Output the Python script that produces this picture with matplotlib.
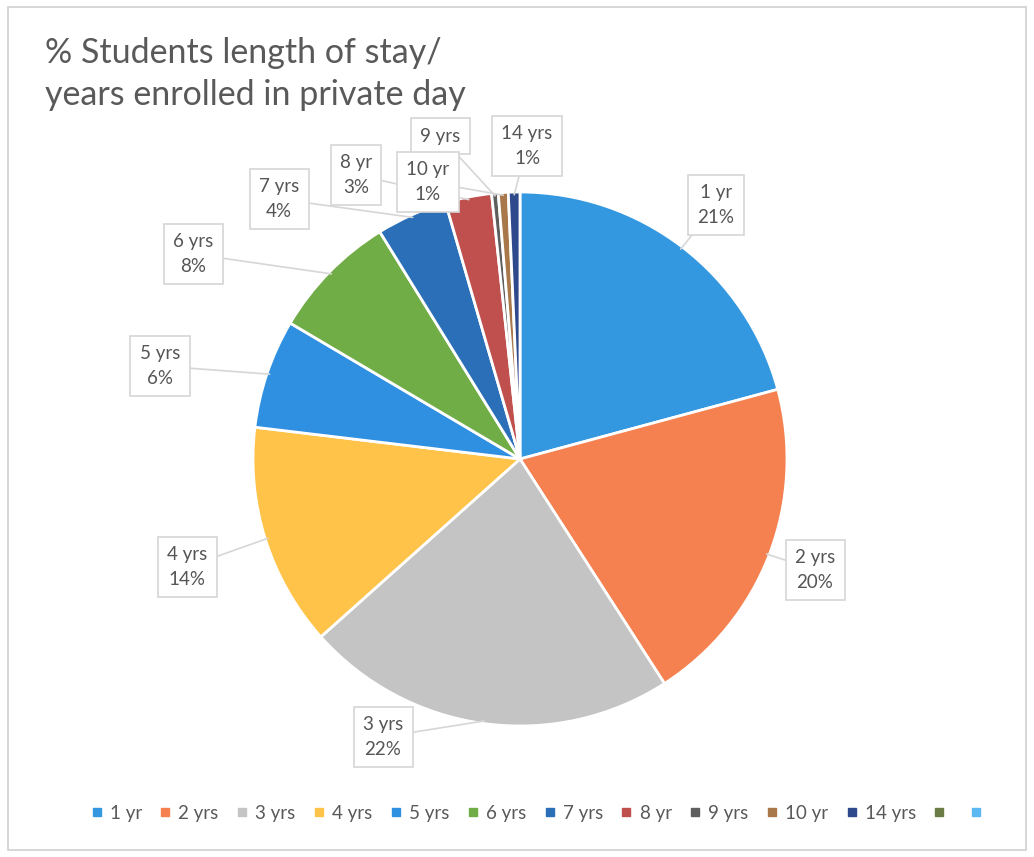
import numpy as np
import matplotlib.pyplot as plt
from matplotlib.lines import Line2D
from matplotlib.patches import Rectangle

plt.rcParams['font.family'] = ['Lato', 'DejaVu Sans']

# data
categories = ['1 yr', '2 yrs', '3 yrs', '4 yrs', '5 yrs', '6 yrs', '7 yrs', '8 yr', '9 yrs', '10 yr', '14 yrs']
shares = [20.8, 20.1, 22.5, 13.5, 6.6, 7.7, 4.3, 2.8, 0.4, 0.6, 0.7]
pct_labels = ['21%', '20%', '22%', '14%', '6%', '8%', '4%', '3%', '', '1%', '1%']
colors = ['#3398e0', '#f4814f', '#c4c4c4', '#ffc34a', '#2f8fe0', '#71ad47',
          '#2a6fb8', '#c0504d', '#5e5e5e', '#a8784a', '#2f4a8c']
# two extra legend entries with no data
extra_colors = ['#6b7d45', '#5bb8f0']

# callout box centres (pixels, y from top)
label_pos = [(716, 205), (815, 570), (383, 737), (187, 567), (160, 366), (193, 254),
             (279, 199), (356, 175), (440, 136), (428, 182), (527, 146)]

W, H = 1034, 857
fig = plt.figure(figsize=(W / 100, H / 100), dpi=100)
ax = fig.add_axes([0, 0, 1, 1])

fig.patches.append(Rectangle((8 / W, 7 / H), 1018 / W, 843 / H, transform=fig.transFigure,
                             fill=False, ec='#d0d0d0', lw=1.2))

cx, cy, r = 520, H - 459, 267
wedges, _ = ax.pie(shares, colors=colors, startangle=90, counterclock=False,
                   center=(cx, cy), radius=r, frame=True,
                   wedgeprops=dict(edgecolor='white', linewidth=2))
ax.set_xlim(0, W)
ax.set_ylim(0, H)
ax.axis('off')

for w, cat, pct, (lx, ly) in zip(wedges, categories, pct_labels, label_pos):
    mid = np.deg2rad((w.theta1 + w.theta2) / 2)
    px, py = cx + r * 0.99 * np.cos(mid), cy + r * 0.99 * np.sin(mid)
    txt = cat if pct == '' else f'{cat}\n{pct}'
    ax.annotate(txt, xy=(px, py), xytext=(lx, H - ly), ha='center', va='center',
                fontsize=13.5, color='#555555', linespacing=1.55,
                bbox=dict(boxstyle='square,pad=0.5', fc='white', ec='#d6d6d6', lw=1.2),
                arrowprops=dict(arrowstyle='-', color='#d6d6d6', lw=1.2,
                                shrinkA=0, shrinkB=0))

ax.text(45, H - 74, '% Students length of stay/\nyears enrolled in private day',
        fontsize=24.5, color='#595959', ha='left', va='center', linespacing=1.4)

handles = [Line2D([], [], marker='s', ls='', color=c, markersize=6) for c in colors + extra_colors]
names = categories + ['', '']
fig.legend(handles, names, loc='center', bbox_to_anchor=(540 / W, 1 - 813 / H), ncol=13,
           frameon=False, fontsize=13.5, labelcolor='#595959', handlelength=0.6,
           handletextpad=0.4, columnspacing=0.95)

fig.savefig('out.png', dpi=100, facecolor='white')
